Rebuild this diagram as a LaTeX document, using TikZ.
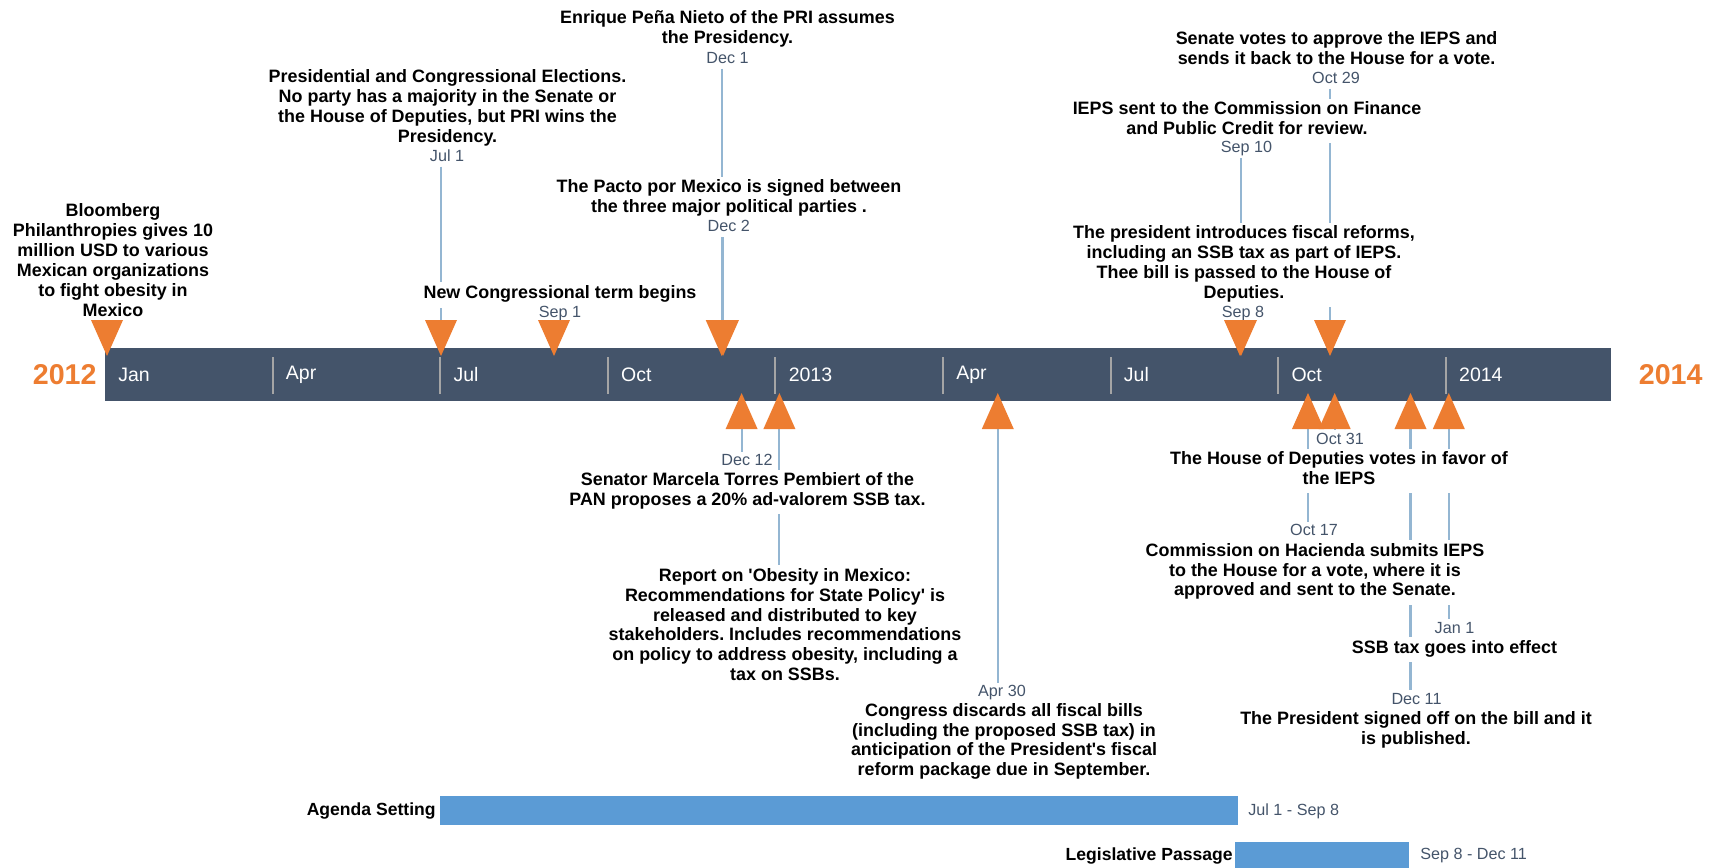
\documentclass[tikz,border=0pt]{standalone}
\usepackage{fontspec}
\setmainfont{Liberation Sans}
\usetikzlibrary{backgrounds}
\frenchspacing

\definecolor{slate}{HTML}{44546A}
\definecolor{pinorange}{HTML}{ED7D31}
\definecolor{linkblue}{HTML}{94B6D2}
\definecolor{phaseblue}{HTML}{5B9BD5}
\definecolor{sepgray}{HTML}{A5A5A5}

\tikzset{
  event/.style={align=center, fill=white, inner xsep=2pt, inner ysep=1.5pt,
    font=\fontsize{10.2}{11.34}\selectfont\bfseries,
    execute at begin node=\strut, execute at end node=\strut},
  when/.style={fill=white, inner sep=1pt, text=slate, text height=6.6pt, text depth=2pt,
    font=\fontsize{9.2}{11}\selectfont},
  link/.style={draw=linkblue, line width=1.2pt},
  tri/.style={fill=pinorange},
  monthlab/.style={anchor=west, text=white, inner sep=0pt, font=\fontsize{11.1}{13}\selectfont},
  yearlab/.style={text=pinorange, inner sep=0pt, font=\fontsize{16.3}{18}\selectfont\bfseries},
  phasebar/.style={fill=phaseblue},
  phaselab/.style={anchor=east, inner sep=0pt, font=\fontsize{10}{12}\selectfont\bfseries},
  phasedate/.style={anchor=west, inner sep=0pt, text=slate, font=\fontsize{9.2}{11}\selectfont},
}

\begin{document}
\begin{tikzpicture}[x=0.02cm, y=-0.02cm]
  \useasboundingbox (0,0) rectangle (1715,867);

  % timeline bar with quarters
  \fill[slate] (105,348) rectangle (1611,401);
  \foreach \k/\lab in {0/Jan, 1/Apr, 2/Jul, 3/Oct, 4/2013, 5/Apr, 6/Jul, 7/Oct, 8/2014}{
    \pgfmathsetmacro{\sx}{105+167.6*\k}
    \ifnum\k>0 \draw[sepgray, line width=1.1pt] (\sx,357) -- (\sx,394); \fi
    \node[monthlab] (m\k) at (\sx+13,375) {\lab};
  }
  \node[yearlab] (y2012) at (64.7,374.5) {2012};
  \node[yearlab] (y2014) at (1670.7,374.5) {2014};

  % events above the bar
  \node[event] (bloomT) at (113,263) {Bloomberg\\Philanthropies gives 10\\million USD to various\\Mexican organizations\\to fight obesity in\\Mexico};
  \node[event] (electT) at (447.5,109.2) {Presidential and Congressional Elections.\\No party has a majority in the Senate or\\the House of Deputies, but PRI wins the\\Presidency.};
  \node[when] (electD) at (447,157) {Jul 1};
  \node[event] (congrT) at (560,295) {New Congressional term begins};
  \node[when] (congrD) at (560,313.4) {Sep 1};
  \node[event] (penaT) at (727.5,30.3) {Enrique Peña Nieto of the PRI assumes\\the Presidency.};
  \node[when] (penaD) at (727.5,59) {Dec 1};
  \node[event] (pactoT) at (729,199.2) {The Pacto por Mexico is signed between\\the three major political parties .};
  \node[when] (pactoD) at (728.7,227.7) {Dec 2};
  \node[event] (senateT) at (1336.6,50.8) {Senate votes to approve the IEPS and\\sends it back to the House for a vote.};
  \node[when] (senateD) at (1336,79) {Oct 29};
  \node[event] (iepsT) at (1247,120.8) {IEPS sent to the Commission on Finance\\and Public Credit for review.};
  \node[when] (iepsD) at (1246.5,148.4) {Sep 10};
  \node[event] (reformT) at (1244,265) {The president introduces fiscal reforms,\\including an SSB tax as part of IEPS.\\Thee bill is passed to the House of\\Deputies.};
  \node[when] (reformD) at (1243,313.4) {Sep 8};

  % events below the bar
  \node[when] (panD) at (747,461.7) {Dec 12};
  \node[event] (panT) at (747.5,492.2) {Senator Marcela Torres Pembiert of the\\PAN proposes a 20\% ad-valorem SSB tax.};
  \node[event] (reportT) at (785,627.5) {Report on \textquotesingle Obesity in Mexico:\\Recommendations for State Policy\textquotesingle{} is\\released and distributed to key\\stakeholders. Includes recommendations\\on policy to address obesity, including a\\tax on SSBs.};
  \node[when] (discardD) at (1002,692.4) {Apr 30};
  \node[event] (discardT) at (1004,742.5) {Congress discards all fiscal bills\\(including the proposed SSB tax) in\\anticipation of the President\textquotesingle s fiscal\\reform package due in September.};
  \node[when] (houseD) at (1340,440) {Oct 31};
  \node[event] (houseT) at (1339,470.8) {The House of Deputies votes in favor of\\the IEPS};
  \node[when] (haciendaD) at (1314,531.7) {Oct 17};
  \node[event] (haciendaT) at (1315,572.5) {Commission on Hacienda submits IEPS\\to the House for a vote, where it is\\approved and sent to the Senate.};
  \node[when] (effectD) at (1454.5,629) {Jan 1};
  \node[event] (effectT) at (1454.5,649.2) {SSB tax goes into effect};
  \node[when] (signD) at (1416.5,700) {Dec 11};
  \node[event] (signT) at (1416,730.8) {The President signed off on the bill and it\\is published.};

  % markers on the bar
  \foreach \n/\x in {bloom/107, elect/441, congr/554, pena/721.7, pacto/723, reform/1240, ieps/1241, senate/1330}{
    \coordinate (\n) at (\x,320);
    \fill[tri] ({\x-16},320) -- ({\x+16},320) -- (\x,356) -- cycle;
  }
  \foreach \n/\x in {pan/741.6, report/779.4, discard/997.8, hacienda/1308, house/1334.7, sign/1410.5, effect/1448.8}{
    \coordinate (\n) at (\x,429);
    \fill[tri] ({\x-16},429) -- ({\x+16},429) -- (\x,393) -- cycle;
  }

  % connectors
  \begin{pgfonlayer}{background}
    \foreach \n in {elect, congr, pena, pacto, ieps, reform, senate}
      \draw[link] (\n D.south -| \n) -- (\n);
    \foreach \n in {pan, discard, hacienda, house, sign, effect}
      \draw[link] (\n) -- (\n D.north -| \n);
    \draw[link] (report) -- (reportT.north -| report);
  \end{pgfonlayer}

  % phases
  \fill[phasebar] (439.5,796) rectangle (1237.5,825);
  \node[phaselab] (agendaL) at (436,811) {Agenda Setting};
  \node[phasedate] (agendaD) at (1248,811) {Jul 1 - Sep 8};
  \fill[phasebar] (1235,842) rectangle (1409,871);
  \node[phaselab] (legisL) at (1233,856) {Legislative Passage};
  \node[phasedate] (legisD) at (1420,856) {Sep 8 - Dec 11};
\end{tikzpicture}
\end{document}
